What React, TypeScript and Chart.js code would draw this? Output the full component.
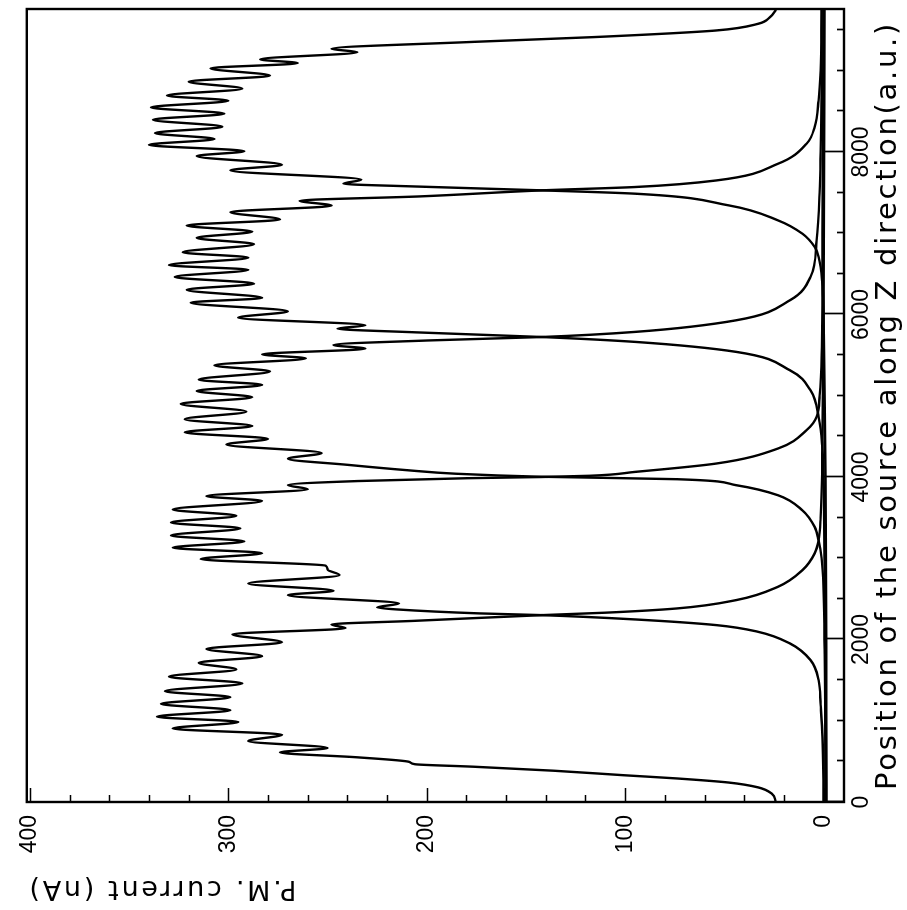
import React, { useEffect, useRef } from "react";
import { Chart, registerables } from "chart.js";

Chart.register(...registerables);

// Position of the source along Z (a.u.) and P.M. current (nA) for each photomultiplier
const pm1Pos = [0,100,180,240,290,330,385,435,465,495,550,610,665,750,828,905,985,1050,1130,1208,1290,1364,1460,1543,1632,1713,1795,1884,1966,2064,2140,2185,2230,2300,2330,2382,2485,2649,2853,3059,3222,3500,4500,6000,9760];
const pm1Cur = [24,26,33,48,74,101,136,177,206,209,235,274,250,290,273,328,295,336,299,334,299,332,293,330,296,315,283,311,273,298,241,248,206,142,110,74,44,23,10.7,4.5,2.5,1.5,0.5,0,-0.5];

const pm2Pos = [0,800,1200,1501,1747,1952,2095,2177,2247,2300,2321,2370,2395,2443,2546,2600,2689,2793,2860,2909,2990,3063,3130,3208,3280,3368,3440,3523,3600,3705,3765,3850,3900,3950,3985,4000,4015,4063,4166,4350,4576,4740,5000,5500,7000,9760];
const pm2Cur = [0,0.5,1.5,2.5,6.6,17,33,54,95,142,173,215,225,214,270,247,290,244,250,251,314,283,328,292,329,294,329,296,328,283,311,260,270,235,180,142,118,95,54,23,8.6,3.5,2,1,0.5,0];

const pm3Pos = [0,2000,3000,3222,3387,3591,3776,3899,3973,4003,4040,4084,4150,4225,4295,4400,4470,4550,4628,4711,4805,4900,4982,5059,5134,5198,5299,5375,5460,5510,5580,5625,5680,5723,5786,5929,6175,6462,6913,7500,8000,9000,9760];
const pm3Cur = [-1,-0.5,1,2.5,4.5,10.7,23,44,74,142,185,210,240,270,253,301,280,322,288,322,291,324,288,316,283,315,279,307,261,283,231,247,200,142,95,44,17,6.6,3.5,2,1.5,1,1];

const pm4Pos = [0,4000,4739,5068,5314,5540,5663,5723,5780,5826,5867,5961,6039,6146,6205,6304,6380,6462,6550,6608,6700,6766,6865,6943,7020,7095,7170,7260,7340,7400,7454,7528,7569,7650,7855,8101,8306,8634,9000,9760];
const pm4Cur = [-1,0,2.5,6.6,17,44,95,142,205,245,231,295,270,319,283,321,287,327,290,330,290,323,287,316,288,321,274,299,248,264,203,142,95,54,23,8.6,4.5,2.5,1.5,1];

const pm5Pos = [0,6000,6708,6831,6995,7159,7344,7487,7528,7575,7610,7659,7774,7843,7950,8010,8088,8160,8233,8311,8397,8472,8549,8631,8695,8780,8866,8940,9030,9094,9140,9229,9270,9355,9414,9496,9578,9660,9750];
const pm5Cur = [-1.5,0,2.5,4.5,10.7,23,48,95,142,205,242,233,299,273,316,292,340,307,337,303,338,302,339,300,331,293,320,279,309,265,284,235,248,177,116,54,33,27,24];

// Axis ticks
const posTicks = [0, 2000, 4000, 6000, 8000];
const posMinorTicks = [500,1000,1500,2500,3000,3500,4500,5000,5500,6500,7000,7500,8500,9000,9500];
const curTicks = [0, 100, 200, 300, 400];
const curMinorTicks = [20,40,60,80,120,140,160,180,220,240,260,280,320,340,360,380];

const POS_MIN = 0;
const POS_MAX = 9760;
const CUR_MIN = -10.3;
const CUR_MAX = 401.6;

const series = [
  [pm1Pos, pm1Cur],
  [pm2Pos, pm2Cur],
  [pm3Pos, pm3Cur],
  [pm4Pos, pm4Cur],
  [pm5Pos, pm5Cur],
];

const TITLE_FONT = "'DejaVu Sans', sans-serif";
const TICK_FONT = "'Liberation Sans', Arial, sans-serif";

// Titles (drawn before the datasets) get a wider letter spacing, tick labels (z=1, after datasets) none.
const spacing = {
  id: "spacing",
  beforeDraw(chart: any) {
    (chart.ctx as any).letterSpacing = "2.7px";
  },
  beforeDatasetsDraw(chart: any) {
    (chart.ctx as any).letterSpacing = "0px";
  },
};

const frameAndTicks = {
  id: "frameAndTicks",
  afterDatasetsDraw(chart: any) {
    const { ctx, chartArea: a, scales } = chart;
    const xs = scales.x;
    const ys = scales.y;
    ctx.save();
    ctx.strokeStyle = "#000";
    ctx.lineWidth = 1.7;
    ctx.beginPath();
    for (const v of posTicks) {
      const px = Math.round(xs.getPixelForValue(v)) + 0.5;
      ctx.moveTo(px, a.bottom);
      ctx.lineTo(px, a.bottom - 20);
    }
    for (const v of posMinorTicks) {
      const px = Math.round(xs.getPixelForValue(v)) + 0.5;
      ctx.moveTo(px, a.bottom);
      ctx.lineTo(px, a.bottom - 7);
    }
    for (const v of curTicks) {
      const py = Math.round(ys.getPixelForValue(v)) + 0.5;
      ctx.moveTo(a.left, py);
      ctx.lineTo(a.left + 14, py);
    }
    for (const v of curMinorTicks) {
      const py = Math.round(ys.getPixelForValue(v)) + 0.5;
      ctx.moveTo(a.left, py);
      ctx.lineTo(a.left + 7, py);
    }
    ctx.stroke();
    ctx.lineWidth = 2.4;
    ctx.strokeRect(a.left, a.top, a.right - a.left, a.bottom - a.top);
    ctx.restore();
  },
};

export default function App() {
  const ref = useRef<HTMLCanvasElement | null>(null);

  useEffect(() => {
    if (!ref.current) return;
    const chart = new Chart(ref.current, {
      type: "line",
      data: {
        datasets: series.map(([pos, cur], k) => ({
          label: "PM" + (k + 1),
          data: pos.map((p, i) => ({ x: p, y: cur[i] })),
          borderColor: "#000",
          borderWidth: 2.4,
          pointRadius: 0,
          fill: false,
          cubicInterpolationMode: "monotone" as const,
        })),
      },
      options: {
        animation: false,
        responsive: false,
        maintainAspectRatio: false,
        devicePixelRatio: 1,
        layout: { padding: { top: 20, right: 9, left: 0, bottom: 0 } },
        plugins: {
          legend: { display: false },
          tooltip: { enabled: false },
        },
        scales: {
          x: {
            type: "linear",
            min: POS_MIN,
            max: POS_MAX,
            grid: { display: false, drawTicks: false },
            border: { display: false },
            afterBuildTicks: (s: any) => {
              s.ticks = posTicks.map((v) => ({ value: v }));
            },
            afterFit: (s: any) => {
              s.height = 63;
            },
            ticks: {
              z: 1,
              color: "#000",
              font: { family: TICK_FONT, size: 23 },
              padding: 4,
              maxRotation: 0,
              autoSkip: false,
              callback: (v: any) => String(v),
            },
            title: {
              display: true,
              text: "Position of the source along Z direction(a.u.)",
              color: "#000",
              font: { family: TITLE_FONT, size: 29 },
              padding: { top: 0, bottom: 1 },
            },
          },
          y: {
            type: "linear",
            min: CUR_MIN,
            max: CUR_MAX,
            grid: { display: false, drawTicks: false },
            border: { display: false },
            afterBuildTicks: (s: any) => {
              s.ticks = curTicks.map((v) => ({ value: v }));
            },
            afterFit: (s: any) => {
              s.width = 108;
            },
            ticks: {
              z: 1,
              color: "#000",
              font: { family: TICK_FONT, size: 23 },
              padding: 13,
              autoSkip: false,
              callback: (v: any) => String(v),
            },
            title: {
              display: true,
              text: "P.M. current (nA)",
              color: "#000",
              align: "end",
              font: { family: TITLE_FONT, size: 27 },
              padding: { top: 6, bottom: 0 },
            },
          },
        },
      },
      plugins: [spacing, frameAndTicks],
    });
    return () => chart.destroy();
  }, []);

  return (
    <div
      style={{
        position: "fixed",
        left: 0,
        top: 0,
        width: 910,
        height: 907,
        background: "#fff",
        transformOrigin: "0 0",
        transform: "translate(0px, 910px) rotate(-90deg)",
      }}
    >
      <canvas
        ref={ref}
        width={910}
        height={907}
        style={{ display: "block", width: 910, height: 907 }}
      />
    </div>
  );
}
